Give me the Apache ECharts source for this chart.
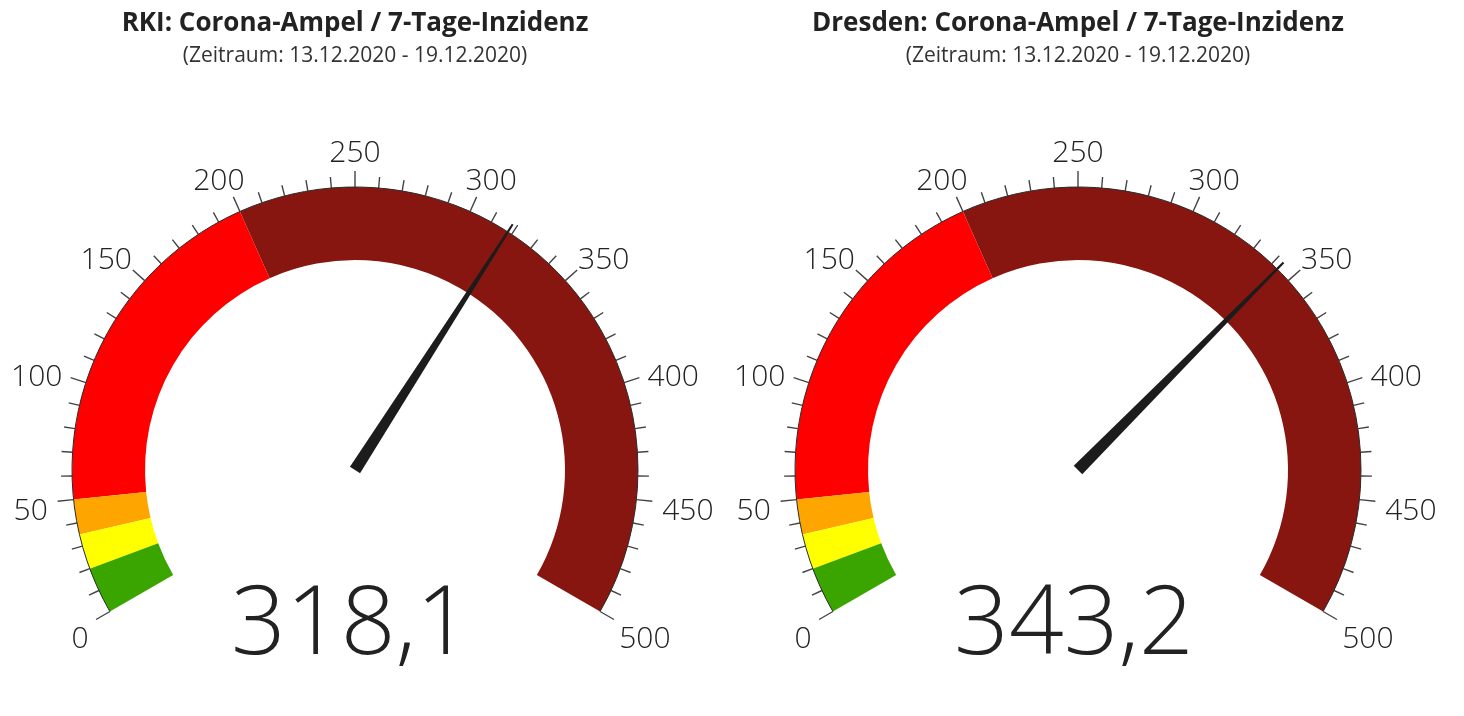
<!DOCTYPE html>
<html>
<head>
<meta charset="utf-8">
<script src="https://cdn.jsdelivr.net/npm/echarts@6/dist/echarts.min.js"></script>
<style>
html,body{margin:0;padding:0;background:#fff;}
#chart{width:1464px;height:716px;}
</style>
</head>
<body>
<div id="chart"></div>
<script>
const gaugeTitles = ['RKI: Corona-Ampel / 7-Tage-Inzidenz', 'Dresden: Corona-Ampel / 7-Tage-Inzidenz'];
const gaugeSubtitles = ['(Zeitraum: 13.12.2020 - 19.12.2020)', '(Zeitraum: 13.12.2020 - 19.12.2020)'];
const incidenceValues = [318.1, 343.2];
const bandLimits = [20, 35, 50, 200, 500];
const bandColors = ['#3ba500', '#ffff00', '#ffa500', '#ff0000', '#86160f'];
const tickValues = [0, 50, 100, 150, 200, 250, 300, 350, 400, 450, 500];
const tickLabels = ['0', '50', '100', '150', '200', '250', '300', '350', '400', '450', '500'];
const axisMin = 0;
const axisMax = 500;
const labelStep = 50;

const centersX = [355, 1078];
const centerY = 470;
const R = 283;
const START_ANGLE = 210, END_ANGLE = -30;
const LABEL_R = 309;
const LABEL_FONT_SIZE = 30;
const FONT = '"Open Sans", sans-serif';

const chart = echarts.init(document.getElementById('chart'));

const colorStops = bandLimits.map((l, i) => [(l - axisMin) / (axisMax - axisMin), bandColors[i]]);

// label box pushed outward so that its edge touches the label circle
const measureCtx = document.createElement('canvas').getContext('2d');
measureCtx.font = '300 ' + LABEL_FONT_SIZE + 'px "Open Sans"';
function labelOffset(v, text) {
  const a = (START_ANGLE - (v - axisMin) / (axisMax - axisMin) * (START_ANGLE - END_ANGLE)) * Math.PI / 180;
  const w = measureCtx.measureText(text).width;
  const h = 31;
  return [Math.cos(a) * w / 2, -Math.sin(a) * h / 2 + 7.5];
}

const titles = [], polars = [], angleAxes = [], radiusAxes = [], series = [];
centersX.forEach((cx, i) => {
  titles.push({
    text: gaugeTitles[i],
    subtext: gaugeSubtitles[i],
    left: cx - 5,
    top: 6,
    textAlign: 'center',
    itemGap: 9,
    textStyle: {fontFamily: FONT, fontSize: 26, fontWeight: 700, color: '#222'},
    subtextStyle: {fontFamily: FONT, fontSize: 21, fontWeight: 400, color: '#333'}
  });
  polars.push({center: [cx, centerY], radius: [0, R]});
  angleAxes.push({
    polarIndex: i,
    type: 'value',
    min: axisMin, max: axisMax, interval: labelStep,
    startAngle: START_ANGLE, endAngle: END_ANGLE, clockwise: true,
    z: 10,
    axisLine: {show: true, lineStyle: {color: '#2a2a2a', width: 1}},
    axisTick: {show: true, length: 16, lineStyle: {color: '#444', width: 1.4}},
    minorTick: {show: true, splitNumber: 5, length: 11, lineStyle: {color: '#444', width: 1.4}},
    splitLine: {show: false},
    minorSplitLine: {show: false},
    axisLabel: {show: false}
  });
  radiusAxes.push({polarIndex: i, type: 'value', min: 0, max: R, show: false,
    axisLine: {show: false}, axisTick: {show: false}, axisLabel: {show: false}, splitLine: {show: false}});
  series.push({
    type: 'gauge',
    center: [cx, centerY],
    radius: R,
    startAngle: START_ANGLE, endAngle: END_ANGLE,
    min: axisMin, max: axisMax,
    z: 2,
    axisLine: {lineStyle: {width: 73, color: colorStops}},
    axisTick: {show: false},
    splitLine: {show: false},
    axisLabel: {show: false},
    pointer: {
      icon: 'path://M5,0 L7,0 L12,100 L0,100 Z',
      width: 12, length: 292,
      itemStyle: {color: '#1c1c1c'}
    },
    anchor: {show: false},
    title: {show: false},
    detail: {
      offsetCenter: [-4, 157],
      fontFamily: FONT, fontSize: 96, fontWeight: 300, color: '#222',
      formatter: v => v.toFixed(1).replace('.', ',')
    },
    data: [{value: incidenceValues[i]}]
  });
  series.push({
    type: 'scatter',
    coordinateSystem: 'polar',
    polarIndex: i,
    clip: false,
    silent: true,
    symbolSize: 1,
    z: 5,
    itemStyle: {color: 'rgba(0,0,0,0)', opacity: 1},
    label: {
      show: true, position: 'inside',
      fontFamily: FONT, fontSize: LABEL_FONT_SIZE, fontWeight: 300, color: '#222',
      opacity: 1, textBorderWidth: 0,
      formatter: p => tickLabels[p.dataIndex]
    },
    emphasis: {disabled: true},
    data: tickValues.map((v, k) => ({
      value: [LABEL_R, v],
      label: {offset: labelOffset(v, tickLabels[k])}
    }))
  });
});

chart.setOption({
  animation: false,
  title: titles,
  polar: polars,
  angleAxis: angleAxes,
  radiusAxis: radiusAxes,
  series: series
});
</script>
</body>
</html>
